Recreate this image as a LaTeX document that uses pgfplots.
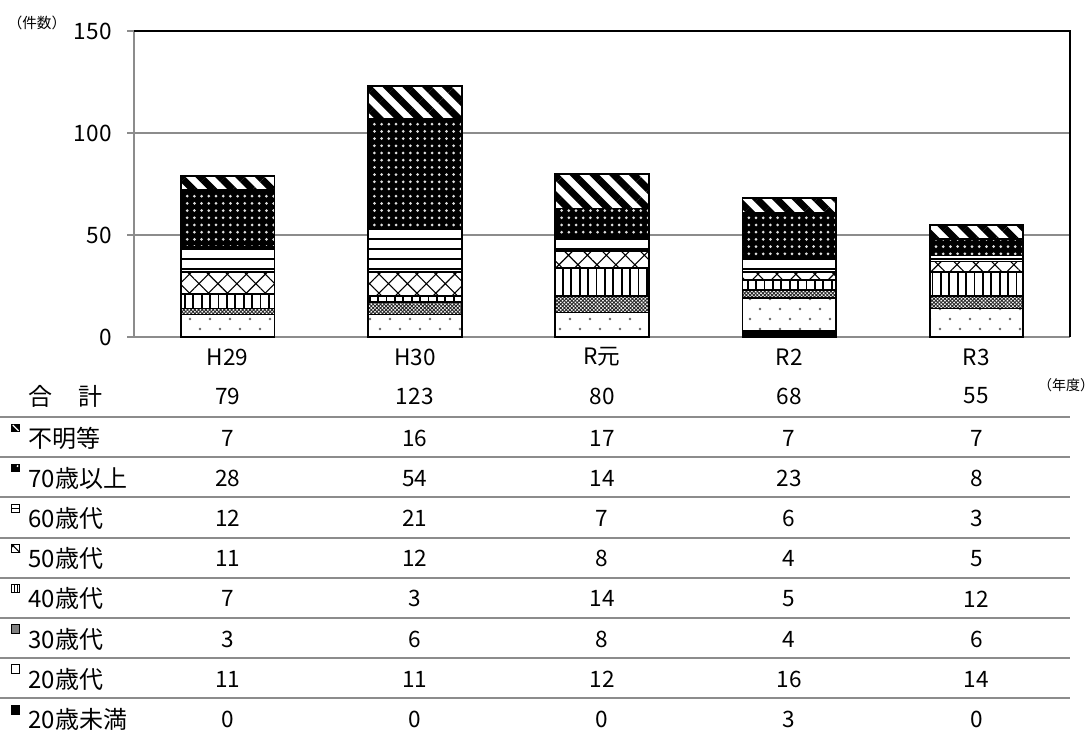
\documentclass[border=0pt]{standalone}
\usepackage{fontspec}
\setmainfont{Noto Sans CJK JP}
\usepackage{pgfplots}
\pgfplotsset{compat=1.18}
\usepackage{pgfplotstable}
\usetikzlibrary{patterns,patterns.meta}

% counts per age group and year (H29..R3)
\pgfplotstableread{
x u20 s20 s30 s40 s50 s60 s70 unk total
0 0 11 3 7 11 12 28 7 79
1 0 11 6 3 12 21 54 16 123
2 0 12 8 14 8 7 14 17 80
3 3 16 4 5 4 6 23 7 68
4 0 14 6 12 5 3 8 7 55
}\counts

\colorlet{axgray}{black!45}
\newcommand\numfont{\fontsize{11.3}{13}\selectfont}
\newcommand\rowfont{\fontsize{12}{14}\selectfont}

\tikzset{
  barbase/.style={draw=black, line width=0.9pt},
  f u20/.style={barbase, fill=black},
  f s20/.style={barbase, preaction={fill=white},
    pattern={Dots[distance=10pt,radius=0.65pt]}, pattern color=black!60,
    postaction={pattern={Dots[distance=10pt,radius=0.65pt,xshift=5pt,yshift=5pt]}, pattern color=black!60}},
  f s30/.style={barbase, preaction={fill=white},
    pattern={Hatch[angle=45,distance=1.3pt,line width=0.45pt]}, pattern color=black!85},
  f s40/.style={barbase, preaction={fill=white},
    pattern={Lines[angle=90,distance=4.2pt,line width=0.9pt]}, pattern color=black},
  f s50/.style={barbase, preaction={fill=white},
    pattern={Hatch[angle=45,distance=6.7pt,line width=0.55pt]}, pattern color=black},
  f s60/.style={barbase, preaction={fill=white},
    pattern={Lines[angle=0,distance=5pt,line width=1.1pt]}, pattern color=black},
  f s70/.style={barbase, preaction={fill=black},
    pattern={Dots[distance=3.6pt,radius=0.75pt]}, pattern color=black!12},
  f unk/.style={barbase, preaction={fill=white},
    pattern={Lines[angle=-45,distance=7pt,line width=3.5pt]}, pattern color=black},
}

\begin{document}
\begin{tikzpicture}
\useasboundingbox (-67pt,-196pt) rectangle (479pt,168.5pt);

\begin{axis}[
  at={(0,0)}, anchor=south west,
  scale only axis, width=468pt, height=153pt,
  ybar stacked, bar width=0.5,
  xmin=-0.5, xmax=4.5, ymin=0, ymax=150,
  xtick=data, xticklabels={H29,H30,R元,R2,R3},
  x tick style={draw=none},
  ytick={0,50,100,150},
  axis x line*=bottom, axis y line*=left,
  ymajorgrids, grid style={axgray, line width=0.8pt},
  axis line style={axgray, line width=1pt},
  tick align=outside, major tick length=3.5pt,
  y tick style={axgray, line width=0.8pt},
  ticklabel style={font=\numfont},
  yticklabel style={anchor=east, inner sep=0pt, xshift=-7.5pt},
  xticklabel style={anchor=center, inner sep=0pt, yshift=-6.5pt},
  /pgf/number format/assume math mode=true,
  clip=false,
]
\addplot[f u20] table[x=x,y=u20]{\counts};
\addplot[f s20] table[x=x,y=s20]{\counts};
\addplot[f s30] table[x=x,y=s30]{\counts};
\addplot[f s40] table[x=x,y=s40]{\counts};
\addplot[f s50] table[x=x,y=s50]{\counts};
\addplot[f s60] table[x=x,y=s60]{\counts};
\addplot[f s70] table[x=x,y=s70]{\counts};
\addplot[f unk] table[x=x,y=unk]{\counts};
\draw[black, line width=1.2pt] (rel axis cs:0,1) -- (rel axis cs:1,1) -- (rel axis cs:1,0);
\end{axis}

% unit labels
\node[font=\fontsize{7.3}{9}\selectfont] at (-48.5pt,157pt) {（件数）};
\node[font=\fontsize{7}{9}\selectfont] at (466pt,-24pt) {（年度）};

% data table under the chart
\node[anchor=west, inner sep=0pt, font=\rowfont] at (-53pt,-29.5pt) {合};
\node[anchor=west, inner sep=0pt, font=\rowfont] at (-28pt,-29.5pt) {計};
\foreach \i in {0,...,4} {
  \pgfplotstablegetelem{\i}{total}\of\counts
  \node[font=\numfont] at (46.8pt+93.6pt*\i, -29.5pt) {\pgfplotsretval};
}
\foreach \k/\col/\lab in {0/unk/不明等, 1/s70/70歳以上, 2/s60/60歳代, 3/s50/50歳代,
                          4/s40/40歳代, 5/s30/30歳代, 6/s20/20歳代, 7/u20/20歳未満} {
  \pgfmathsetmacro\yc{-50.5-20.1*\k}
  \pgfmathsetmacro\yl{-40-20.1*\k}
  \draw[axgray, line width=1pt] (-67pt,\yl pt) -- (468pt,\yl pt);
  \node[anchor=west, inner sep=0pt, font=\rowfont] at (-53pt,\yc pt) {\lab};
  \foreach \i in {0,...,4} {
    \pgfplotstablegetelem{\i}{\col}\of\counts
    \node[font=\numfont] at (46.8pt+93.6pt*\i, \yc pt) {\pgfplotsretval};
  }
}

% small legend keys in front of the row labels
\begin{scope}[line width=0.5pt]
  \fill[black] (-61.25pt,-47.5pt) rectangle ++(4.2pt,4.2pt);
  \draw[white, line width=0.6pt] (-60.6pt,-44.0pt) -- (-57.7pt,-46.9pt);
  \fill[black] (-61.25pt,-67.6pt) rectangle ++(4.2pt,4.2pt);
  \fill[white] (-58.2pt,-64.5pt) circle (0.55pt);
  \draw[black] (-61.25pt,-87.7pt) rectangle ++(4.2pt,4.2pt);
  \draw[black] (-61.25pt,-85.6pt) -- ++(4.2pt,0);
  \draw[black] (-61.25pt,-107.8pt) rectangle ++(4.2pt,4.2pt);
  \fill[black] (-61.25pt,-103.6pt) -- ++(2pt,0) -- ++(-2pt,-2pt) -- cycle;
  \draw[black] (-61.25pt,-103.6pt) -- ++(4.2pt,-4.2pt);
  \draw[black] (-61.25pt,-127.9pt) rectangle ++(4.2pt,4.2pt);
  \draw[black] (-59.85pt,-127.9pt) -- ++(0,4.2pt) (-58.45pt,-127.9pt) -- ++(0,4.2pt);
  \draw[black, fill=black!50] (-61.25pt,-148pt) rectangle ++(4.2pt,4.2pt);
  \draw[black, fill=white] (-61.25pt,-168.1pt) rectangle ++(4.2pt,4.2pt);
  \fill[black] (-61.5pt,-189pt) rectangle ++(4.6pt,5pt);
\end{scope}
\end{tikzpicture}
\end{document}
